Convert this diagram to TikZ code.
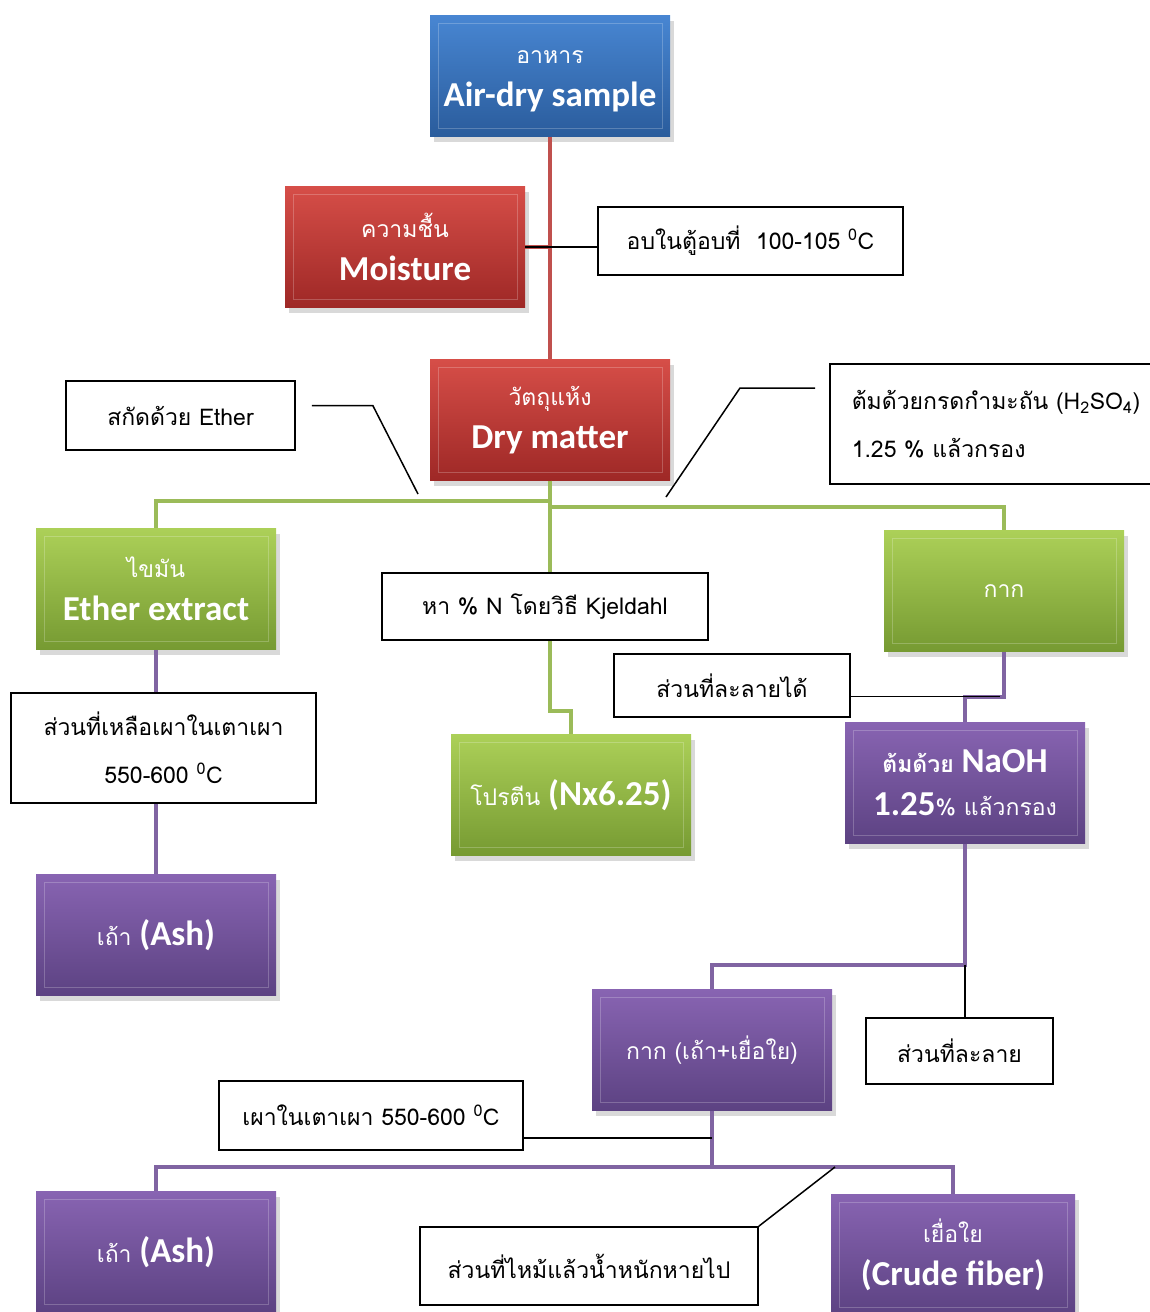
\documentclass[tikz,border=0pt]{standalone}
\usepackage{fontspec}
\setmainfont{Loma}[Script=Thai]
\newfontfamily\latfont{Carlito}
\usetikzlibrary{shadows}

\definecolor{blueTop}{RGB}{72,134,210}
\definecolor{blueBot}{RGB}{42,92,156}
\definecolor{redTop}{RGB}{214,78,72}
\definecolor{redBot}{RGB}{158,40,38}
\definecolor{greenTop}{RGB}{172,208,88}
\definecolor{greenBot}{RGB}{118,154,50}
\definecolor{purpleTop}{RGB}{136,100,178}
\definecolor{purpleBot}{RGB}{92,66,130}
\definecolor{redLine}{RGB}{192,80,77}
\definecolor{greenLine}{RGB}{155,187,89}
\definecolor{purpleLine}{RGB}{128,100,162}

% text inside the coloured boxes
\newcommand{\tsmall}[1]{{\fontsize{23}{26}\selectfont #1}}
\newcommand{\tbig}[1]{{\fontsize{35}{38}\selectfont\latfont\bfseries #1}}

\tikzset{
colbox/.style={rectangle, minimum width=240pt, minimum height=121pt, inner sep=0pt,
  align=center, text=white, font=\fontsize{23}{43}\selectfont,
  drop shadow={opacity=0.3, shadow xshift=4pt, shadow yshift=-5pt},
  path picture={\draw[white, opacity=0.22, line width=1pt]
    ([shift={(8pt,-8pt)}]path picture bounding box.north west) rectangle
    ([shift={(-8pt,8pt)}]path picture bounding box.south east);}}, % bevel look
bluebox/.style={colbox, top color=blueTop, bottom color=blueBot},
redbox/.style={colbox, top color=redTop, bottom color=redBot},
greenbox/.style={colbox, top color=greenTop, bottom color=greenBot},
purplebox/.style={colbox, top color=purpleTop, bottom color=purpleBot},
labelbox/.style={draw=black, line width=1.6pt, fill=white, inner sep=0pt,
  align=center, font=\fontsize{23}{48}\selectfont},
redline/.style={redLine, line width=4pt},
greenline/.style={greenLine, line width=4pt},
purpleline/.style={purpleLine, line width=4pt},
leader/.style={black, line width=1.5pt},
}

\begin{document}
\begin{tikzpicture}[x=1pt, y=-1pt]
\useasboundingbox (0,0) rectangle (1150,1312);

% coloured boxes
\node[bluebox] (air) at (550,76) {\tsmall{อาหาร\vphantom{ชื้น}}\\\tbig{Air-dry sample}};
\node[redbox] (moist) at (405,247) {\tsmall{ความชื้น}\\\tbig{Moisture}};
\node[redbox] (dry) at (550,420) {\tsmall{วัตถุแห้ง}\\\tbig{Dry matter}};
\node[greenbox] (ether) at (156,589) {\tsmall{ไขมัน}\\\tbig{Ether extract}};
\node[greenbox] (kak) at (1004,591) {\tsmall{กาก}};
\node[greenbox] (protein) at (571,795) {\tsmall{โปรตีน} \tbig{(Nx6.25)}};
\node[purplebox] (naoh) at (965,783) {\tsmall{\bfseries ต้มด้วย} \tbig{NaOH}\\\tbig{1.25}\tsmall{\% แล้วกรอง}};
\node[purplebox] (ash1) at (156,935) {\tsmall{เถ้า} \tbig{(Ash)}};
\node[purplebox] (residue) at (712,1050) {\tsmall{กาก (เถ้า+เยื่อใย)}};
\node[purplebox] (ash2) at (156,1252) {\tsmall{เถ้า} \tbig{(Ash)}};
\node[purplebox, minimum width=244pt] (fiber) at (953,1255) {\tsmall{เยื่อใย}\\\tbig{(Crude fiber)}};

% connectors
\draw[redline] (air) -- (dry);
\draw[redline] (moist.east) -- (moist.east -| air.south);
\draw[greenline] (dry.south) -- ++(0,20) -| (ether.north);
\draw[greenline] (dry.south) -- ++(0,26) -| (kak.north);
\draw[greenline] (dry.south) -- ++(0,230) -| (protein.north);
\draw[purpleline] (ether) -- (ash1);
\draw[purpleline] (kak.south) -- ++(0,45) coordinate (kakturn) -| (naoh.north);
\draw[purpleline] (naoh.south) -- ++(0,121) coordinate (naohturn) -| (residue.north);
\draw[purpleline] (residue.south) -- ++(0,56) coordinate (resturn) -| (ash2.north);
\draw[purpleline] (resturn) -| (fiber.north);

% white notes
\node[labelbox, minimum width=305pt, minimum height=68pt] (oven) at (750.5,241) {อบในตู้อบที่~~100-105 \textsuperscript{0}C};
\node[labelbox, minimum width=229pt, minimum height=69pt] (etherlbl) at (180.5,415.5) {สกัดด้วย Ether};
\node[labelbox, anchor=west, minimum height=120pt, align=left, text width=300pt, inner xsep=22pt] (acid) at (829,424)
  {ต้มด้วยกรดกำมะถัน (H\textsubscript{2}SO\textsubscript{4})\\1.25 \% แล้วกรอง};
\node[labelbox, minimum width=326pt, minimum height=67pt] (kjel) at (545,606.5) {หา \% N โดยวิธี Kjeldahl};
\node[labelbox, minimum width=236pt, minimum height=63pt] (soluble) at (732,685.5) {ส่วนที่ละลายได้};
\node[labelbox, minimum width=305pt, minimum height=110pt] (remain) at (163.5,748) {ส่วนที่เหลือเผาในเตาเผา\\550-600 \textsuperscript{0}C};
\node[labelbox, minimum width=187pt, minimum height=66pt] (sol2) at (959.5,1051) {ส่วนที่ละลาย};
\node[labelbox, minimum width=304pt, minimum height=69pt] (burn) at (371,1115.5) {เผาในเตาเผา 550-600 \textsuperscript{0}C};
\node[labelbox, minimum width=338pt, minimum height=78pt] (lost) at (589,1266) {ส่วนที่ไหม้แล้วน้ำหนักหายไป};

% leader lines
\coordinate (ethertip) at (418,494);
\coordinate (acidtip) at (666,497);
\coordinate (losttip) at (835,1167);
\draw[leader] (moist.east) -- (moist.east -| oven.west);
\draw[leader] ([shift={(16,-10)}]etherlbl.east) -- ++(61,0) -- (ethertip);
\draw[leader] ([shift={(-14,-36)}]acid.west) -- ++(-75,0) -- (acidtip);
\draw[leader] (kakturn -| soluble.east) -- ([xshift=-4pt]kakturn);
\draw[leader] (naohturn) -- (naohturn |- sol2.north);
\draw[leader] (burn.east |- 0,1138) -- (residue.south |- 0,1138);
\draw[leader] (lost.north east) -- (losttip);
\end{tikzpicture}
\end{document}
